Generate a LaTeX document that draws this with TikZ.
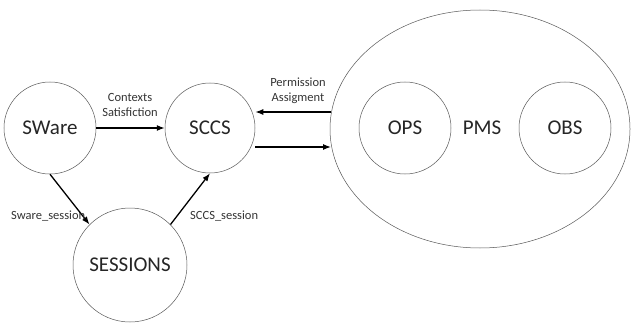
\documentclass[tikz,border=0pt]{standalone}
\usepackage{fontspec}
\setmainfont{Carlito}
\usetikzlibrary{arrows.meta,shapes.geometric}
\begin{document}
\begin{tikzpicture}[x=1pt,y=-1pt,
  shade/.style={draw=black!65,line width=0.5pt,fill=white},
  ent/.style={circle,shade,inner sep=0pt,font=\fontsize{21}{23}\selectfont,text=black!85},
  conn/.style={line width=1.3pt,-{Latex[length=8pt,width=6pt]}},
  lbl/.style={font=\fontsize{12.5}{14.5}\selectfont,text=black!80,align=center,inner sep=1pt}]
\useasboundingbox (0,0) rectangle (631,326);
\node[ent,minimum size=92pt] (sware) at (50,128) {SWare};
\node[ent,minimum size=90pt] (sccs) at (210,128) {SCCS};
\node[ent,minimum size=114pt] (sess) at (130,265) {SESSIONS};
\node[ellipse,shade,minimum width=300pt,minimum height=238pt,inner sep=0pt] (pms) at (480,129) {};
\node[ent,minimum size=92pt] (ops) at (405,128) {OPS};
\node[ent,minimum size=92pt] (obs) at (565,128) {OBS};
\node[font=\fontsize{21}{23}\selectfont,text=black!85] (pmst) at (482,128) {PMS};
\draw[conn] (sware.east) -- (sccs.west);
\node[lbl] (cs) at (130,105) {Contexts\\Satisfiction};
\coordinate (pin) at (331,112);
\coordinate (pout) at (331,147);
\draw[conn] (pin) -- (sccs.east |- pin);
\draw[conn] (sccs.east |- pout) -- (pout);
\node[lbl] (pa) at (298,91) {Permission\\Assigment};
\draw[conn] (sware.south) -- (sess.135);
\draw[conn] (sess.45) -- (sccs.south);
\node[lbl,anchor=west] (sws) at (10,216) {Sware\_session};
\node[lbl,anchor=west] (scs) at (189,216) {SCCS\_session};
\end{tikzpicture}
\end{document}
